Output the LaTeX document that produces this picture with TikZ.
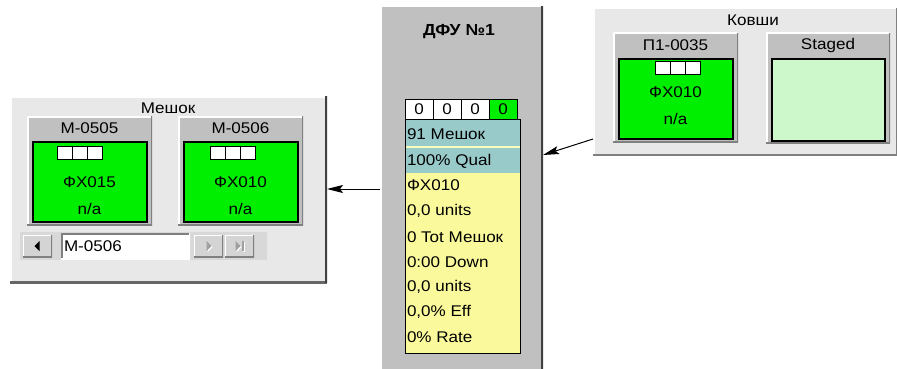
\documentclass[tikz,border=0pt]{standalone}
\usepackage{fontspec}
\setmainfont{Liberation Sans}[FakeStretch=1.1]
\usetikzlibrary{arrows.meta,calc}

\definecolor{panelbg}{HTML}{E8E8E8}
\definecolor{navbg}{HTML}{D8D8D8}
\definecolor{btnbg}{HTML}{D4D4D4}
\definecolor{headgray}{HTML}{C0C0C0}
\definecolor{lampgreen}{HTML}{00EE00}
\definecolor{palegreen}{HTML}{CCF8CC}
\definecolor{infoteal}{HTML}{99CACA}
\definecolor{infoyellow}{HTML}{FAFA9C}
\definecolor{edgedark}{HTML}{404040}
\definecolor{edgemid}{HTML}{808080}
\definecolor{greyglyph}{HTML}{A0A0A0}

\tikzset{
  every node/.style={font=\fontsize{15.5}{16}\selectfont, inner sep=0pt, outer sep=0pt},
  sized/.style 2 args={rectangle, anchor=north west, minimum width=#1pt, minimum height=#2pt},
  % 3D bevel: light top/left, dark bottom/right
  raised/.style={path picture={
      \draw[white, line width=#1*2pt]
        (path picture bounding box.south west) -- (path picture bounding box.north west)
        -- (path picture bounding box.north east);
      \draw[edgemid, line width=#1*2pt]
        (path picture bounding box.south west) -- (path picture bounding box.south east)
        -- (path picture bounding box.north east);}},
  raised/.default=1.5,
  darkraised/.style={path picture={
      \draw[white, line width=3pt]
        (path picture bounding box.south west) -- (path picture bounding box.north west)
        -- (path picture bounding box.north east);
      \draw[edgedark!80!white, line width=5pt]
        (path picture bounding box.south west) -- (path picture bounding box.south east);
      \draw[edgedark, line width=5pt]
        (path picture bounding box.south east) -- (path picture bounding box.north east);}},
  sunken/.style={path picture={
      \draw[edgemid, line width=3pt]
        (path picture bounding box.south west) -- (path picture bounding box.north west)
        -- (path picture bounding box.north east);
      \draw[white, line width=2pt]
        (path picture bounding box.south west) -- (path picture bounding box.south east)
        -- (path picture bounding box.north east);}},
  cell/.style={sized={15}{13}, draw=black, line width=1pt, fill=white},
  counter/.style={sized={28}{20}, draw=black, line width=1pt, fill=white},
  rowtext/.style={anchor=west},
  btn/.style={sized={29}{22}, fill=btnbg, raised=1},
  conn/.style={line width=1pt, -{Stealth[length=16pt, width=8pt, inset=3pt]}},
  % a lot card: header, lamp with three cells, code and value lines
  pics/card/.style n args={5}{code={
      \node[sized={125}{109}, fill=headgray, raised] (-frame) at (0,0) {};
      \node (-head) at (62.5,12) {#1};
      \node[sized={114}{80}, fill=lampgreen, draw=black, line width=1.3pt] (-lamp) at (6,26) {};
      \node[cell] (-c1) at (#3,#4) {};
      \node[cell] (-c2) at (#3+15,#4) {};
      \node[cell] (-c3) at (#3+30,#4) {};
      \node (-code) at (62.5,#5) {#2};
      \node (-value) at (62.5,#5+27) {n/a};
  }},
}

\begin{document}
\begin{tikzpicture}[x=1pt, y=-1pt]
\useasboundingbox (0,0) rectangle (897,369);
\fill[white] (0,0) rectangle (897,369);

% ---- bag group (left) ----
\node[sized={317}{187}, fill=panelbg, darkraised] (meshok) at (10,96) {};
\node (meshoktitle) at (168,108) {Мешок};
\pic (m1) at (27,116) {card={М-0505}{ФХ015}{30}{30}{66}};
\pic (m2) at (178,116) {card={М-0506}{ФХ010}{32}{30}{66}};

% navigation bar
\node[sized={247}{28}, fill=navbg] (nav) at (20,232) {};
\node[btn] (bprev) at (23,235) {};
\fill[black] ($(bprev.center)+(-3,0)$) -- ++(5,-5) -- ++(0,10) -- cycle;
\node[sized={129}{26}, fill=white, sunken] (field) at (61,233) {};
\node[rowtext] (fieldtext) at (64,246) {М-0506};
\node[btn] (bnext) at (194,235) {};
\fill[white] ($(bnext.center)+(4,1)$) -- ++(-5,-5) -- ++(0,10) -- cycle;
\fill[greyglyph] ($(bnext.center)+(3,0)$) -- ++(-5,-5) -- ++(0,10) -- cycle;
\node[btn] (blast) at (225,235) {};
\fill[white] ($(blast.center)+(2,1)$) -- ++(-5,-5) -- ++(0,10) -- cycle;
\fill[greyglyph] ($(blast.center)+(1,0)$) -- ++(-5,-5) -- ++(0,10) -- cycle;
\fill[white] ($(blast.center)+(3,-4)$) rectangle ++(2,10);
\fill[greyglyph] ($(blast.center)+(2,-5)$) rectangle ++(2,10);

% ---- filter unit (centre) ----
\node[sized={163}{366}, fill=headgray, path picture={
    \draw[white, line width=3pt] (path picture bounding box.south west)
      -- (path picture bounding box.north west) -- (path picture bounding box.north east);
    \draw[edgedark, line width=4pt] (path picture bounding box.south east)
      -- (path picture bounding box.north east);}] (dfu) at (380,6) {};
\node[font=\fontsize{16}{17}\selectfont\bfseries] (dfutitle) at (459,32) {ДФУ №1};

\node[counter] (k1) at (405,99) {};
\node[counter] (k2) at (433,99) {};
\node[counter] (k3) at (461,99) {};
\node[counter, fill=lampgreen] (k4) at (489,99) {};
\foreach \k in {k1,k2,k3,k4} \node at (\k.center) {0};

\node[sized={115}{28}, fill=infoteal] (r1) at (405,119) {};
\node[sized={115}{26}, fill=infoteal] (r2) at (405,147) {};
\node[sized={115}{180}, fill=infoyellow] (r3) at (405,173) {};
\draw[infoyellow!70!white, line width=1.5pt] (r1.south west) -- (r1.south east);
\node[sized={115}{234}, draw=black, line width=1pt] (info) at (405,119) {};

\node[rowtext] (t1) at (407,134) {91 Мешок};
\node[rowtext] (t2) at (407,161) {100\% Qual};
\node[rowtext] (t3) at (407,185) {ФХ010};
\node[rowtext] (t4) at (407,211) {0,0 units};
\node[rowtext] (t5) at (407,237) {0 Tot Мешок};
\node[rowtext] (t6) at (407,262) {0:00 Down};
\node[rowtext] (t7) at (407,287) {0,0 units};
\node[rowtext] (t8) at (407,312) {0,0\% Eff};
\node[rowtext] (t9) at (407,337) {0\% Rate};

% ---- ladle group (right) ----
\node[sized={304}{147}, fill=panelbg, raised] (kovshi) at (593,8) {};
\node (kovshititle) at (753,20) {Ковши};
\pic (p1) at (613,33) {card={П1-0035}{ФХ010}{42}{29}{59}};
\node[sized={124}{110}, fill=headgray, raised] (staged) at (766,33) {};
\node (stagedhead) at (828,45) {Staged};
\node[sized={113}{82}, fill=palegreen, draw=black, line width=1.3pt] (stagedlamp) at (772,59) {};

% ---- flow connectors ----
\draw[conn] (dfu.west |- m1-lamp.east) ++(0,7) coordinate (outfrom) -- (outfrom -| meshok.east);
\draw[conn] ($(kovshi.south west)+(0,-16)$) -- ($(dfu.north east)+(0,149)$);
\end{tikzpicture}
\end{document}
